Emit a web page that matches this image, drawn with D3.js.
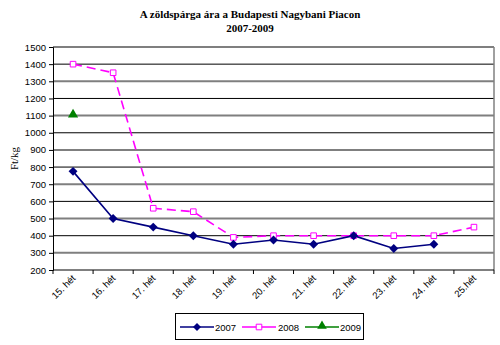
<!DOCTYPE html>
<html>
<head>
<meta charset="utf-8">
<script src="https://cdn.jsdelivr.net/npm/d3@7"></script>
<style>
  html, body { margin: 0; padding: 0; background: #fff; }
  svg { display: block; font-family: "Liberation Serif", "Times New Roman", serif; }
  .sans { font-family: "Liberation Sans", Arial, sans-serif; }
</style>
</head>
<body>
<svg id="chart" width="500" height="345"></svg>
<script>
// Weekly asparagus prices (Ft/kg) at the Budapest wholesale market
const weeks = ["15. hét", "16. hét", "17. hét", "18. hét", "19. hét", "20. hét",
               "21. hét", "22. hét", "23. hét", "24. hét", "25.hét"];
const values2007 = [775, 500, 450, 400, 350, 375, 350, 400, 325, 350, null];
const values2008 = [1400, 1350, 560, 540, 390, 400, 400, 400, 400, 400, 450];
const values2009 = [1100, null, null, null, null, null, null, null, null, null, null];
const yTicks = [200, 300, 400, 500, 600, 700, 800, 900, 1000, 1100, 1200, 1300, 1400, 1500];
const seriesNames = ["2007", "2008", "2009"];

const svg = d3.select("#chart");
const margin = { left: 53, right: 494, top: 47, bottom: 270 };

const x = d3.scaleBand().domain(weeks).range([margin.left, margin.right]);
const y = d3.scaleLinear().domain([200, 1500]).range([margin.bottom, margin.top]);

// Title
svg.append("text").attr("x", 250).attr("y", 18).attr("text-anchor", "middle")
  .attr("font-size", 11).attr("font-weight", "bold").text("A zöldspárga ára a Budapesti Nagybani Piacon");
svg.append("text").attr("x", 250).attr("y", 32).attr("text-anchor", "middle")
  .attr("font-size", 11).attr("font-weight", "bold").text("2007-2009");

// Horizontal gridlines
svg.append("g").selectAll("line").data(yTicks.filter(d => d > 200)).join("line")
  .attr("x1", margin.left).attr("x2", margin.right)
  .attr("y1", d => y(d)).attr("y2", d => y(d))
  .attr("stroke", d => (d / 100) % 2 === 1 ? "#7f7f7f" : "#000")
  .attr("stroke-width", d => (d / 100) % 2 === 1 ? 2 : 1);

// Right border of plot area
svg.append("line").attr("x1", margin.right).attr("x2", margin.right)
  .attr("y1", margin.top).attr("y2", margin.bottom)
  .attr("stroke", "#808080").attr("stroke-width", 1.5);

// Y axis
const yAxis = d3.axisLeft(y).tickValues(yTicks).tickSize(4).tickPadding(3).tickFormat(d3.format("d"));
const gy = svg.append("g").attr("transform", `translate(${margin.left},0)`).call(yAxis);
gy.select(".domain").attr("stroke", "#000");
gy.selectAll(".tick line").attr("stroke", "#000");
gy.selectAll("text").attr("font-size", 9.5).attr("fill", "#000")
  .attr("font-family", "'Liberation Sans', Arial, sans-serif");

// X axis: ticks at category boundaries
const gx = svg.append("g").attr("class", "sans");
gx.append("line").attr("x1", margin.left).attr("x2", margin.right)
  .attr("y1", margin.bottom).attr("y2", margin.bottom).attr("stroke", "#000");
const boundaries = weeks.map(w => x(w)).concat([margin.right]);
gx.selectAll("line.tk").data(boundaries).join("line").attr("class", "tk")
  .attr("x1", d => d).attr("x2", d => d)
  .attr("y1", margin.bottom).attr("y2", margin.bottom + 4).attr("stroke", "#000");
gx.selectAll("text").data(weeks).join("text")
  .attr("text-anchor", "end").attr("font-size", 9.5)
  .attr("transform", d => `translate(${x(d) + x.bandwidth() / 2 + 3},${margin.bottom + 9}) rotate(-45)`)
  .text(d => d);

// Y axis title
svg.append("text").attr("transform", `translate(18,${(margin.top + margin.bottom) / 2}) rotate(-90)`)
  .attr("text-anchor", "middle").attr("font-size", 11).text("Ft/kg");

const cx = i => x(weeks[i]) + x.bandwidth() / 2;
const line = d3.line().defined(d => d.v != null).x(d => cx(d.i)).y(d => y(d.v));
const pts = arr => arr.map((v, i) => ({ v, i }));

// 2008 series: dashed magenta with hollow squares
svg.append("path").datum(pts(values2008)).attr("d", line)
  .attr("fill", "none").attr("stroke", "#ff00ff").attr("stroke-width", 1.6)
  .attr("stroke-dasharray", "9,5");

// 2007 series: navy with diamonds
svg.append("path").datum(pts(values2007)).attr("d", line)
  .attr("fill", "none").attr("stroke", "#000080").attr("stroke-width", 1.6);

const square = d3.symbol().type(d3.symbolSquare2).size(40);
const triangle = d3.symbol().type(d3.symbolTriangle).size(45);

svg.append("g").selectAll("path").data(pts(values2008).filter(d => d.v != null)).join("path")
  .attr("d", square).attr("transform", d => `translate(${cx(d.i)},${y(d.v)})`)
  .attr("fill", "#fff").attr("stroke", "#ff00ff").attr("stroke-width", 1);

svg.append("g").selectAll("path").data(pts(values2007).filter(d => d.v != null)).join("path")
  .attr("d", d3.symbol().type(d3.symbolSquare).size(40)).attr("transform", d => `translate(${cx(d.i)},${y(d.v)}) rotate(45)`)
  .attr("fill", "#000080");

svg.append("g").selectAll("path").data(pts(values2009).filter(d => d.v != null)).join("path")
  .attr("d", triangle).attr("transform", d => `translate(${cx(d.i)},${y(d.v) - 1})`)
  .attr("fill", "#008000");

// Legend
const lg = svg.append("g").attr("class", "sans");
lg.append("rect").attr("x", 175.5).attr("y", 313.5).attr("width", 188).attr("height", 26)
  .attr("fill", "#fff").attr("stroke", "#000");
const items = [
  { name: seriesNames[0], x0: 180, color: "#000080" },
  { name: seriesNames[1], x0: 242, color: "#ff00ff" },
  { name: seriesNames[2], x0: 305, color: "#008000" }
];
const ly = 327;
items.forEach((it, k) => {
  lg.append("line").attr("x1", it.x0).attr("x2", it.x0 + 34).attr("y1", ly).attr("y2", ly)
    .attr("stroke", it.color).attr("stroke-width", 1.6);
  const mx = it.x0 + 17;
  if (k === 0) {
    lg.append("path").attr("d", d3.symbol().type(d3.symbolSquare).size(32))
      .attr("transform", `translate(${mx},${ly}) rotate(45)`).attr("fill", it.color);
  } else if (k === 1) {
    lg.append("path").attr("d", d3.symbol().type(d3.symbolSquare2).size(40))
      .attr("transform", `translate(${mx},${ly})`).attr("fill", "#fff").attr("stroke", it.color);
  } else {
    lg.append("path").attr("d", d3.symbol().type(d3.symbolTriangle).size(40))
      .attr("transform", `translate(${mx},${ly - 1})`).attr("fill", it.color);
  }
  lg.append("text").attr("x", it.x0 + (k === 1 ? 36 : 35)).attr("y", ly + 4)
    .attr("font-size", 9.5).text(it.name);
});
</script>
</body>
</html>
